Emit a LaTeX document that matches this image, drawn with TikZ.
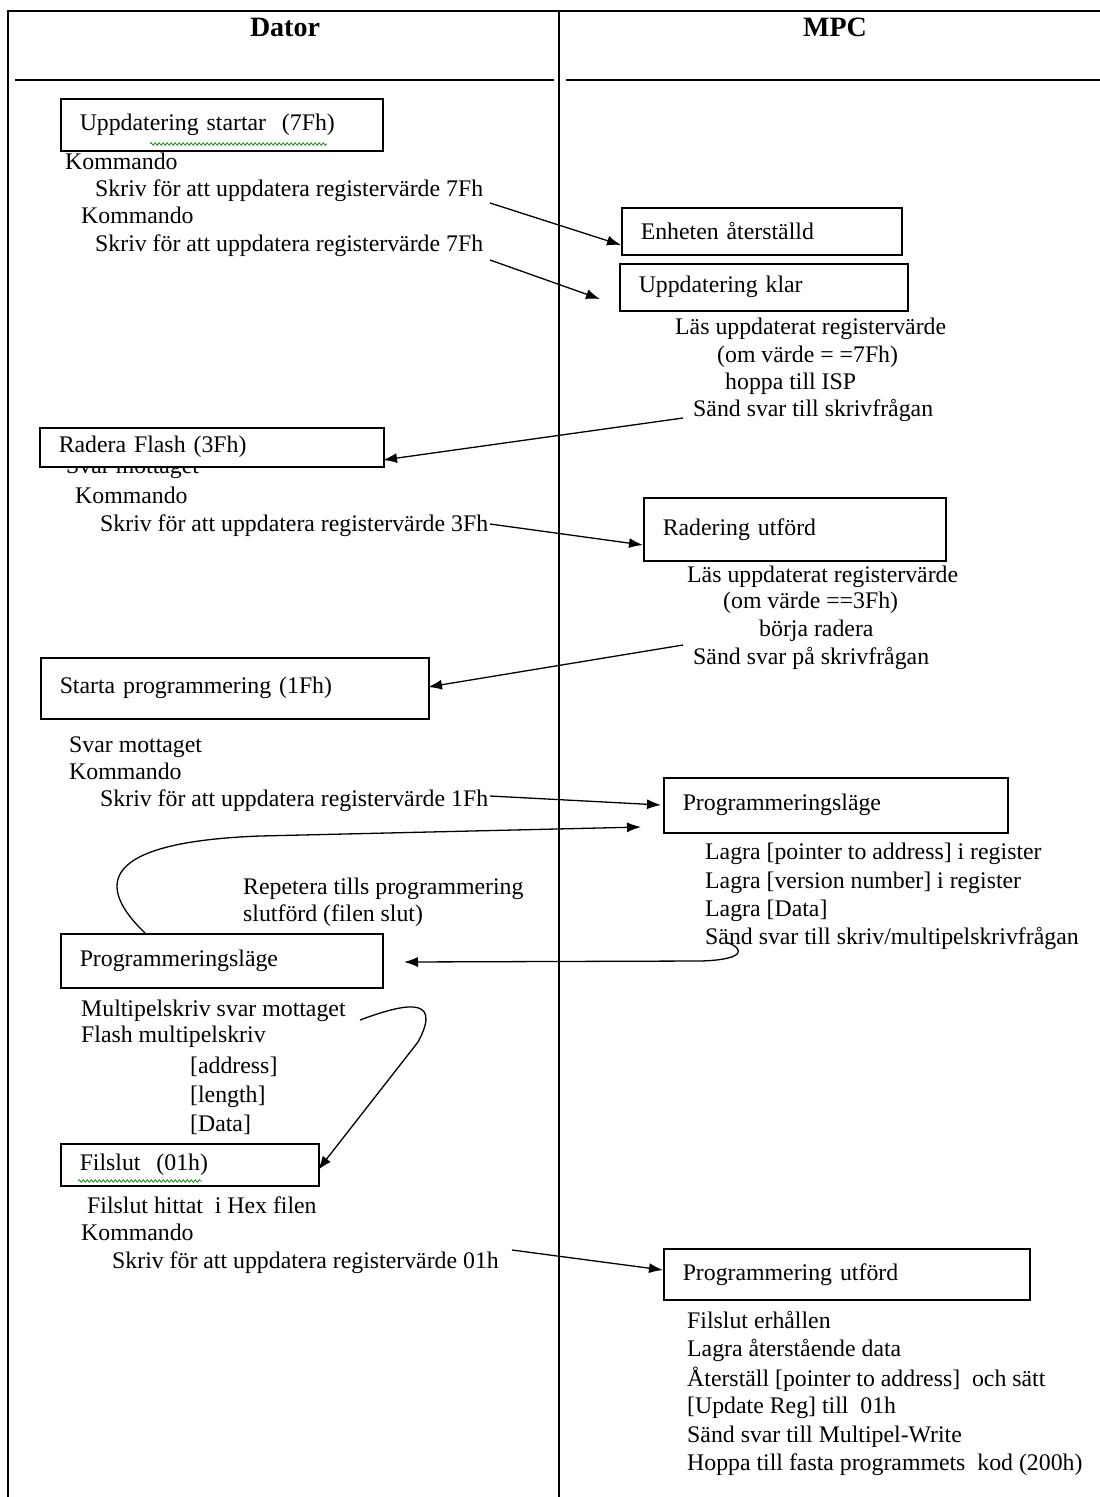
\documentclass[tikz,border=0pt]{standalone}
\usepackage{fontspec}
\setmainfont{Liberation Serif}
\usetikzlibrary{arrows.meta,decorations.pathmorphing}
\begin{document}
\begin{tikzpicture}[x=1pt,y=-1pt,
  txt/.style={font=\fontsize{23.8}{27}\selectfont, inner sep=0pt, anchor=base west},
  hdr/.style={font=\fontsize{28}{32}\selectfont\bfseries, inner sep=0pt},
  box/.style={draw, line width=1.5pt, fill=white, anchor=north west, inner xsep=19pt, inner ysep=0pt,
     align=left, font=\fontsize{23.8}{27}\selectfont},
  arr/.style={line width=1.3pt, -{Latex[length=14pt,width=10pt]}},
  frame/.style={line width=1.6pt},
  wavy/.style={green!55!black, line width=0.7pt, decorate, decoration={snake, segment length=4pt, amplitude=1.3pt}}
]
\useasboundingbox (0,0) rectangle (1100,1497);
\fill[white] (0,0) rectangle (1100,1497);

% frame
\draw[frame] (1100,11) -- (8,11) -- (8,1497);
\draw[frame] (559,11) -- (559,1497);
\draw[frame] (15,80) -- (554,80);
\draw[frame] (566,80) -- (1100,80);
\node[hdr] (hD) at (285,27) {Dator};
\node[hdr] (hM) at (835,27) {MPC};

% boxes
\node[box, minimum width=322pt, minimum height=52pt, text width=284pt] (b1) at (60,98) {Uppdatering startar\ \ (7Fh)};
\node[box, minimum width=280pt, minimum height=47pt, text width=242pt] (b2) at (621,207) {Enheten återställd};
\node[box, minimum width=288pt, minimum height=47pt, text width=250pt] (b3) at (619,263) {Uppdatering klar};

% text hidden under box 4
\node[txt] (t9) at (66,473) {Svar mottaget};
\node[box, minimum width=344pt, minimum height=39pt, text width=306pt] (b4) at (39,427) {Radera Flash (3Fh)};
\node[box, minimum width=302pt, minimum height=63pt, text width=264pt] (b5) at (643,497) {\raisebox{5pt}{Radering utförd}};
\node[box, minimum width=388pt, minimum height=61pt, text width=350pt] (b6) at (40,657) {\raisebox{5pt}{Starta programmering (1Fh)}};
\node[box, minimum width=344pt, minimum height=55pt, text width=306pt] (b7) at (663,777) {Programmeringsläge};
\node[box, minimum width=322pt, minimum height=54pt, text width=284pt] (b8) at (60,933) {Programmeringsläge};
\node[box, minimum width=258pt, minimum height=42pt, text width=220pt] (b9) at (60,1143) {Filslut\ \ (01h)};
\node[box, minimum width=366pt, minimum height=51pt, text width=328pt] (b10) at (663,1248) {Programmering utförd};

% spell-check underlines
\draw[wavy] (150,144) -- (327,144);
\draw[wavy] (78,1181) -- (202,1181);

% left texts
\node[txt] (t1) at (65,169) {Kommando};
\node[txt] (t2) at (95,196) {Skriv för att uppdatera registervärde 7Fh};
\node[txt] (t3) at (81,223) {Kommando};
\node[txt] (t4) at (95,251) {Skriv för att uppdatera registervärde 7Fh};
\node[txt] (t10) at (75,503) {Kommando};
\node[txt] (t11) at (100,531) {Skriv för att uppdatera registervärde 3Fh};
\node[txt] (t16) at (69,752) {Svar mottaget};
\node[txt] (t17) at (69,779) {Kommando};
\node[txt] (t18) at (100,806) {Skriv för att uppdatera registervärde 1Fh};
\node[txt] (t23) at (243,894) {Repetera tills programmering};
\node[txt] (t24) at (243,921) {slutförd (filen slut)};
\node[txt] (t25) at (81,1016) {Multipelskriv svar mottaget};
\node[txt] (t26) at (81,1042) {Flash multipelskriv};
\node[txt] (t27) at (190,1073) {[address]};
\node[txt] (t28) at (190,1102) {[length]};
\node[txt] (t29) at (190,1131) {[Data]};
\node[txt] (t30) at (87,1213) {Filslut hittat\ \ i Hex filen};
\node[txt] (t31) at (81,1240) {Kommando};
\node[txt] (t32) at (112,1268) {Skriv för att uppdatera registervärde 01h};

% right texts
\node[txt] (t5) at (675,334) {Läs uppdaterat registervärde};
\node[txt] (t6) at (717,362) {(om värde = =7Fh)};
\node[txt] (t7) at (725,389) {hoppa till ISP};
\node[txt] (t8) at (693,416) {Sänd svar till skrivfrågan};
\node[txt] (t12) at (687,582) {Läs uppdaterat registervärde};
\node[txt] (t13) at (723,608) {(om värde ==3Fh)};
\node[txt] (t14) at (759,636) {börja radera};
\node[txt] (t15) at (693,664) {Sänd svar på skrivfrågan};
\node[txt] (t19) at (705,859) {Lagra [pointer to address] i register};
\node[txt] (t20) at (705,888) {Lagra [version number] i register};
\node[txt] (t21) at (705,916) {Lagra [Data]};
\node[txt] (t22) at (705,944) {Sänd svar till skriv/multipelskrivfrågan};
\node[txt] (t33) at (687,1328) {Filslut erhållen};
\node[txt] (t34) at (687,1356) {Lagra återstående data};
\node[txt] (t35) at (687,1386) {Återställ [pointer to address]\ \ och sätt};
\node[txt] (t36) at (687,1413) {[Update Reg] till\ \ 01h};
\node[txt] (t37) at (687,1442) {Sänd svar till Multipel-Write};
\node[txt] (t38) at (687,1470) {Hoppa till fasta programmets\ \ kod (200h)};

% arrow endpoints
\coordinate (s1) at (490,203);
\coordinate (e1) at (621,245);
\coordinate (s2) at (490,260);
\coordinate (e2) at (600,299);
\coordinate (s3) at (683,418);
\coordinate (e3) at (383,460);
\coordinate (s4) at (490,524);
\coordinate (e4) at (643,545);
\coordinate (s5) at (683,645);
\coordinate (e5) at (428,687);
\coordinate (s6) at (490,796);
\coordinate (e6) at (661,805);
\coordinate (s7) at (145,933);
\coordinate (e7) at (641,827);
\coordinate (s8) at (726,942);
\coordinate (e8) at (404,962);
\coordinate (s9) at (360,1020);
\coordinate (e9) at (318,1170);
\coordinate (s10) at (512,1250);
\coordinate (e10) at (663,1270);

% connectors
\draw[arr] (s1) -- (e1);
\draw[arr] (s2) -- (e2);
\draw[arr] (s3) -- (e3);
\draw[arr] (s4) -- (e4);
\draw[arr] (s5) -- (e5);
\draw[arr] (s6) -- (e6);
\draw[arr] (s7) .. controls (95,885) and (100,842) .. (260,836) -- (e7);
\draw[arr] (s8) .. controls (748,950) and (742,960) .. (700,961) -- (e8);
\draw[arr] (s9) .. controls (398,1006) and (445,992) .. (418,1042) -- (e9);
\draw[arr] (s10) -- (e10);
\end{tikzpicture}
\end{document}
